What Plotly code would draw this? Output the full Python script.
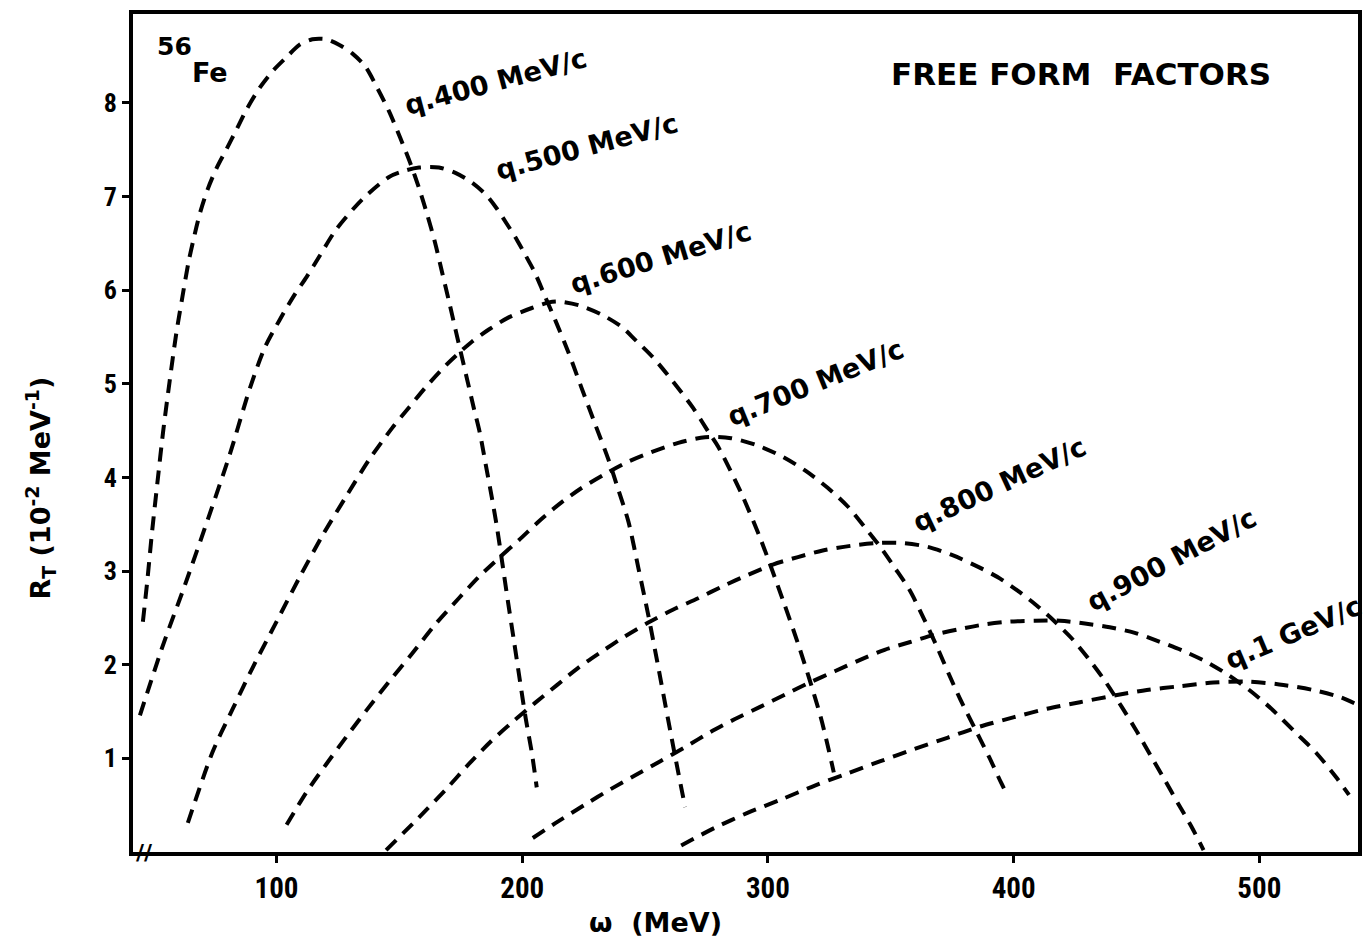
import plotly.graph_objects as go

# omega (MeV) and R_T (10^-2 MeV^-1) for each momentum transfer q
w_q400 = [45.6, 47.3, 49.3, 51.5, 53.8, 56.4, 59.2, 61.7, 64.1, 66.1, 68.8, 72.0, 75.7, 79.7, 83.8,
          87.8, 93.1, 98.4, 104.1, 109.3, 114.6, 120.3, 125.6, 130.8, 136.1, 141.0, 145.8, 150.3,
          154.4, 158.0, 161.3, 164.5, 167.3, 170.2, 173.0, 175.5, 177.9, 180.3, 182.8, 185.2, 187.6,
          189.7, 191.7, 194.1, 196.6, 199.0, 201.4, 203.9, 205.9]
r_q400 = [2.46, 2.87, 3.41, 3.94, 4.48, 5.01, 5.54, 5.93, 6.29, 6.53, 6.82, 7.08, 7.31, 7.51, 7.72,
          7.93, 8.16, 8.34, 8.49, 8.62, 8.68, 8.68, 8.62, 8.53, 8.39, 8.16, 7.91, 7.63,
          7.36, 7.09, 6.81, 6.51, 6.20, 5.88, 5.56, 5.28, 5.01, 4.74, 4.47, 4.13, 3.79,
          3.47, 3.12, 2.69, 2.26, 1.84, 1.43, 1.06, 0.69]

w_q500 = [44.4, 53.8, 62.7, 72.4, 80.9, 89.0, 95.1, 101.2, 107.3, 112.2, 117.4, 124.3, 134.9, 145.8,
          152.7, 158.0, 166.1, 173.0, 179.5, 185.2, 189.7, 193.7, 197.8, 201.4, 205.1, 208.7, 213.6,
          218.9, 224.1, 229.8, 235.1, 239.1, 243.2, 247.3, 251.3, 255.4, 259.4, 263.5, 266.3]
r_q500 = [1.46, 2.21, 2.85, 3.58, 4.24, 4.94, 5.38, 5.68, 5.95, 6.14, 6.36, 6.65, 6.97, 7.21,
          7.28, 7.31, 7.31, 7.25, 7.15, 7.02, 6.87, 6.71, 6.54, 6.37, 6.19, 5.97, 5.67,
          5.33, 4.96, 4.56, 4.19, 3.87, 3.53, 3.03, 2.53, 1.97, 1.41, 0.85, 0.48]

w_q600 = [63.9, 74.0, 82.2, 90.3, 100.0, 109.3, 118.7, 128.4, 137.7, 147.1, 154.0, 160.9, 169.0,
          175.1, 179.5, 186.4, 194.5, 203.9, 210.8, 214.8, 222.9, 232.3, 240.4, 246.0, 253.3, 261.5,
          269.6, 275.7, 279.7, 289.0, 297.2, 306.1, 312.2, 316.6, 321.5, 324.3, 326.8]
r_q600 = [0.31, 1.07, 1.53, 1.97, 2.46, 2.93, 3.38, 3.80, 4.19, 4.53, 4.75, 4.97, 5.20,
          5.35, 5.45, 5.58, 5.71, 5.81, 5.87, 5.88, 5.84, 5.74, 5.61, 5.47, 5.28, 5.02,
          4.74, 4.49, 4.33, 3.84, 3.33, 2.69, 2.23, 1.87, 1.44, 1.14, 0.85]

w_q700 = [104.1, 112.2, 120.3, 128.4, 136.5, 145.8, 155.2, 164.9, 174.2, 182.4, 190.5, 198.6, 206.7,
          214.8, 223.7, 233.9, 243.2, 252.5, 263.5, 274.4, 285.0, 295.9, 306.1, 315.4, 324.3, 332.5,
          339.4, 345.4, 351.5, 357.6, 363.7, 369.0, 373.8, 378.3, 384.4, 390.1, 394.9, 397.4]
r_q700 = [0.29, 0.64, 0.94, 1.23, 1.51, 1.82, 2.12, 2.44, 2.71, 2.94, 3.14, 3.33, 3.53,
          3.71, 3.88, 4.04, 4.17, 4.27, 4.37, 4.43, 4.42, 4.34, 4.22, 4.07, 3.89, 3.69,
          3.47, 3.27, 3.04, 2.80, 2.48, 2.18, 1.89, 1.63, 1.31, 1.01, 0.74, 0.61]

w_q800 = [144.6, 158.0, 169.0, 178.3, 187.2, 196.1, 205.1, 214.0, 222.9, 232.3, 241.6, 251.3, 261.5,
          271.6, 281.7, 291.9, 302.0, 312.2, 322.3, 333.7, 344.6, 354.8, 364.9, 375.1, 386.0, 394.5,
          402.2, 409.5, 416.4, 423.7, 430.6, 437.1, 444.0, 450.1, 456.2, 461.5, 467.1, 472.4, 477.3]
r_q800 = [0.02, 0.37, 0.67, 0.94, 1.18, 1.39, 1.59, 1.78, 1.97, 2.14, 2.30, 2.45, 2.59,
          2.71, 2.84, 2.96, 3.07, 3.15, 3.22, 3.27, 3.30, 3.30, 3.26, 3.17, 3.04, 2.92,
          2.78, 2.63, 2.47, 2.28, 2.06, 1.83, 1.55, 1.29, 1.01, 0.77, 0.51, 0.27, 0.02]

w_q900 = [204.3, 214.8, 225.8, 235.9, 246.0, 256.2, 266.3, 276.5, 286.6, 296.8, 306.9, 317.0, 327.2,
          337.3, 347.5, 357.6, 367.7, 377.9, 388.0, 398.2, 408.7, 418.9, 429.0, 439.1, 449.3, 459.0,
          468.8, 478.5, 487.4, 495.9, 504.9, 514.2, 523.1, 531.2, 536.5]
r_q900 = [0.15, 0.33, 0.51, 0.67, 0.82, 0.97, 1.12, 1.28, 1.42, 1.55, 1.68, 1.81, 1.93,
          2.05, 2.16, 2.24, 2.32, 2.38, 2.43, 2.46, 2.47, 2.47, 2.44, 2.40, 2.34, 2.25,
          2.15, 2.03, 1.89, 1.73, 1.53, 1.29, 1.06, 0.80, 0.61]

w_q1000 = [264.7, 278.5, 291.9, 305.3, 319.1, 332.5, 345.8, 359.6, 373.0, 386.4, 400.2, 413.6, 427.0,
           440.8, 454.2, 467.5, 481.3, 494.7, 508.1, 521.9, 533.3, 540.2]
r_q1000 = [0.07, 0.26, 0.42, 0.56, 0.71, 0.84, 0.97, 1.10, 1.22, 1.34, 1.44, 1.53, 1.60,
           1.67, 1.73, 1.77, 1.81, 1.82, 1.79, 1.73, 1.65, 1.57]

curves = [
    (w_q400, r_q400), (w_q500, r_q500), (w_q600, r_q600), (w_q700, r_q700),
    (w_q800, r_q800), (w_q900, r_q900), (w_q1000, r_q1000),
]

curve_labels = ["q.400 MeV/c", "q.500 MeV/c", "q.600 MeV/c", "q.700 MeV/c",
                "q.800 MeV/c", "q.900 MeV/c", "q.1 GeV/c"]
label_w = [189.2, 226.2, 256.2, 319.5, 394.1, 464.3, 514.0]
label_r = [8.23, 7.54, 6.35, 5.01, 3.92, 3.12, 2.34]
label_angle = [-15, -15, -17, -22, -25, -28, -23]

x_ticks = [100, 200, 300, 400, 500]
y_ticks = [1, 2, 3, 4, 5, 6, 7, 8]

LABEL_FONT = "DejaVu Sans"
TICK_FONT = "Liberation Sans Narrow, Roboto Condensed, Liberation Sans, Arial"

fig = go.Figure()
for (w, r), name in zip(curves, curve_labels):
    fig.add_trace(go.Scatter(
        x=w, y=r, mode="lines", name=name,
        line=dict(color="black", width=4, dash="14px,9px", shape="spline", smoothing=0.8),
        hoverinfo="skip", showlegend=False,
    ))

annotations = []
for txt, lw, lr, ang in zip(curve_labels, label_w, label_r, label_angle):
    annotations.append(dict(
        x=lw, y=lr, xref="x", yref="y", text=txt, showarrow=False, textangle=ang,
        font=dict(family=LABEL_FONT, size=27, color="black", weight="bold"),
        xanchor="center", yanchor="middle",
    ))

annotations += [
    dict(x=427.4, y=8.31, xref="x", yref="y", text="FREE FORM  FACTORS", showarrow=False,
         font=dict(family=LABEL_FONT, size=31, color="black", weight="bold"),
         xanchor="center", yanchor="middle"),
    dict(x=58.6, y=8.60, xref="x", yref="y", text="56", showarrow=False,
         font=dict(family=LABEL_FONT, size=25, color="black", weight="bold"),
         xanchor="center", yanchor="middle"),
    dict(x=72.8, y=8.32, xref="x", yref="y", text="Fe", showarrow=False,
         font=dict(family=LABEL_FONT, size=27, color="black", weight="bold"),
         xanchor="center", yanchor="middle"),
    dict(x=46.4, y=0, xref="x", yref="y", text="//", showarrow=False,
         font=dict(family=LABEL_FONT, size=22, color="black", weight="bold"),
         xanchor="center", yanchor="middle"),
    dict(x=-0.0757, y=0.434, xref="paper", yref="paper",
         text="R<sub>T</sub> (10<sup>-2</sup> MeV<sup>-1</sup>)", showarrow=False, textangle=-90,
         font=dict(family=LABEL_FONT, size=27, color="black", weight="bold"),
         xanchor="center", yanchor="middle"),
    dict(x=0.4264, y=-0.0847, xref="paper", yref="paper", text="ω  (MeV)", showarrow=False,
         font=dict(family=LABEL_FONT, size=27, color="black", weight="bold"),
         xanchor="center", yanchor="middle"),
]

fig.update_layout(
    width=1365, height=942, autosize=False,
    margin=dict(l=133, r=3, t=14, b=90, pad=0),
    paper_bgcolor="white", plot_bgcolor="white",
    annotations=annotations,
    showlegend=False,
)
fig.update_xaxes(
    range=[41.58, 540.16], tickvals=x_ticks, ticktext=[str(v) for v in x_ticks],
    ticks="outside", ticklen=7, tickwidth=3, tickcolor="black",
    showline=True, linewidth=4, linecolor="black", mirror=True,
    showgrid=False, zeroline=False,
    tickfont=dict(family=TICK_FONT, size=29, color="black", weight="bold"),
)
fig.update_yaxes(
    range=[0, 8.95], tickvals=y_ticks, ticktext=[str(v) for v in y_ticks],
    ticks="outside", ticklen=7, tickwidth=3, tickcolor="black",
    showline=True, linewidth=4, linecolor="black", mirror=True,
    showgrid=False, zeroline=False,
    tickfont=dict(family=TICK_FONT, size=26, color="black", weight="bold"),
)

fig.write_html("out.html")
